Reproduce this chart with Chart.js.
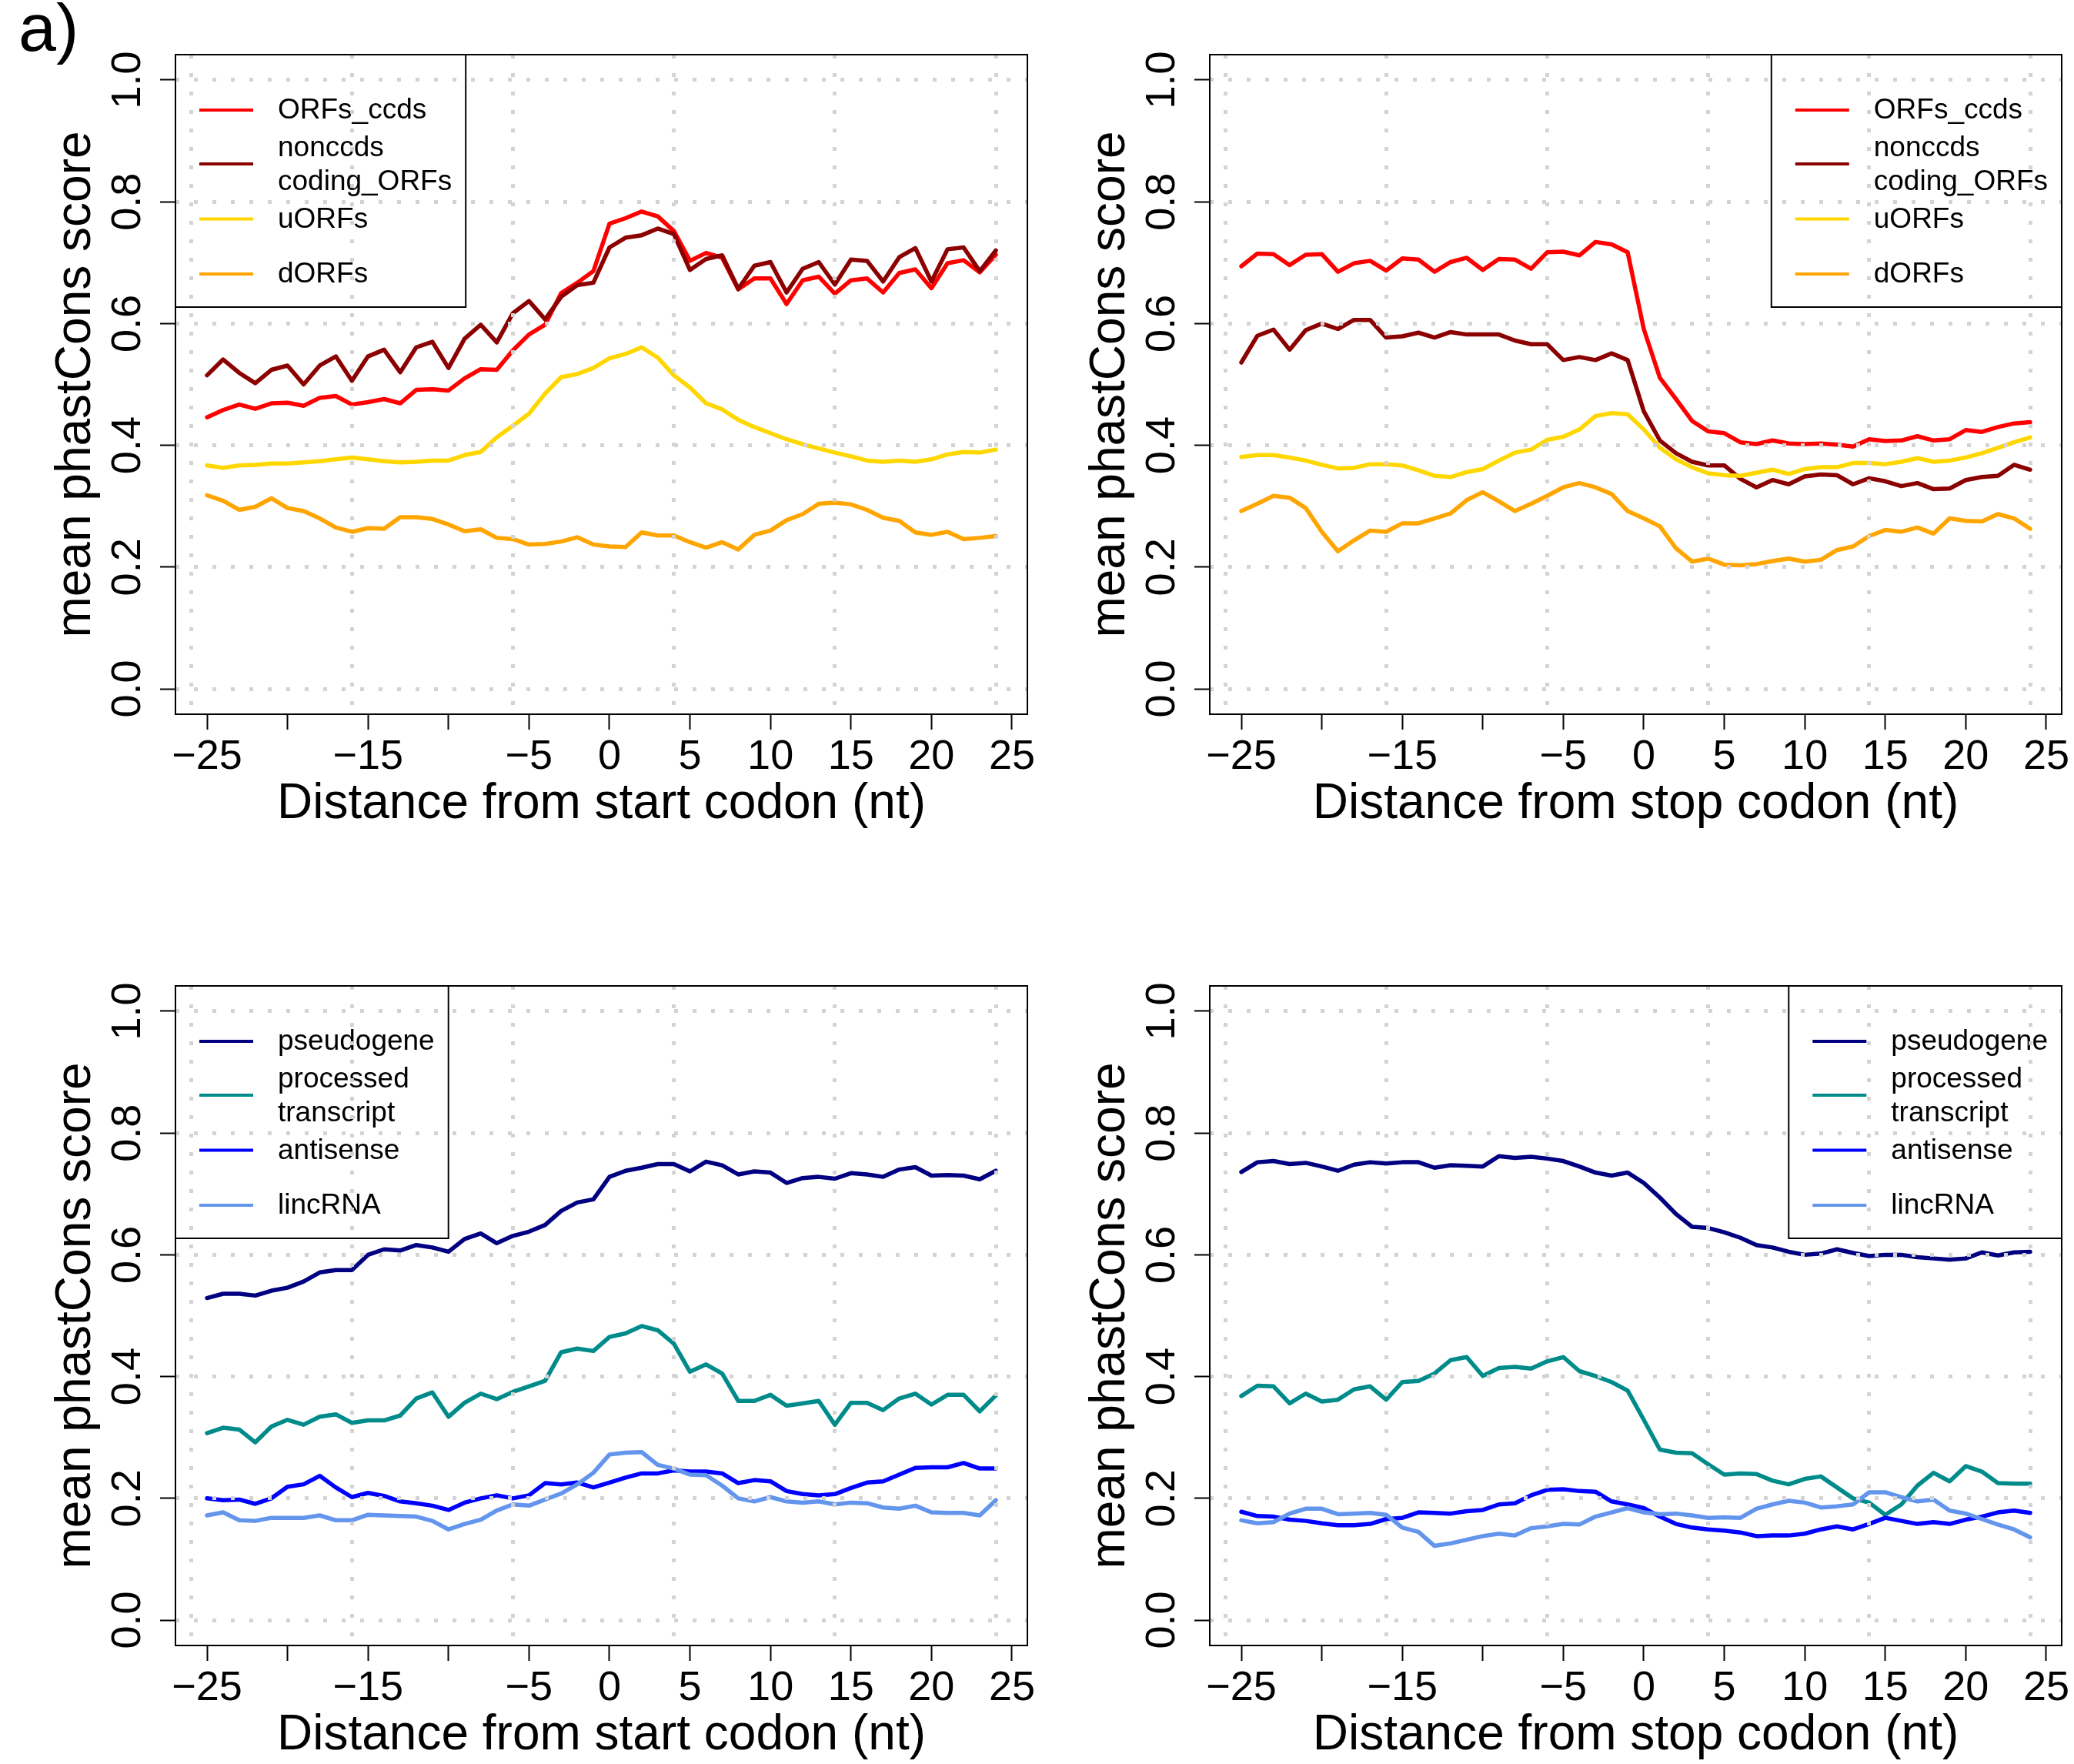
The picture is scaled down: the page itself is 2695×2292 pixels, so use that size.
<!DOCTYPE html>
<html><head><meta charset="utf-8">
<script src="https://cdn.jsdelivr.net/npm/chart.js@4.4.1/dist/chart.umd.min.js"></script>
<style>
html,body{margin:0;padding:0;background:#fff;width:2695px;height:2292px;overflow:hidden;position:relative}
canvas{position:absolute;display:block}
</style>
</head><body>
<canvas id="c1" width="1345" height="1150" style="left:0px;top:0px;width:1345px;height:1150px"></canvas>
<canvas id="c2" width="1350" height="1150" style="left:1345px;top:0px;width:1350px;height:1150px"></canvas>
<canvas id="c3" width="1345" height="1082" style="left:0px;top:1210px;width:1345px;height:1082px"></canvas>
<canvas id="c4" width="1350" height="1082" style="left:1345px;top:1210px;width:1350px;height:1082px"></canvas>
<script>
// ---------- categories / ticks ----------
const xValues = [-25,-24,-23,-22,-21,-20,-19,-18,-17,-16,-15,-14,-13,-12,-11,-10,-9,-8,-7,-6,-5,-4,-3,-2,-1,
                 0,1,2,3,4,5,6,7,8,9,10,11,12,13,14,15,16,17,18,19,20,21,22,23,24];
const xTickValues = [-25,-20,-15,-10,-5,0,5,10,15,20,25];
const xTickLabels = ['\u221225','','\u221215','','\u22125','0','5','10','15','20','25'];
const xGridValues = [-26,-16,-6,4,14,24];
const yTickValues = [0,0.2,0.4,0.6,0.8,1.0];
const yTickLabels = ['0.0','0.2','0.4','0.6','0.8','1.0'];

// ---------- series: start codon, ORF classes ----------
const startCcds = [0.446,0.458,0.467,0.460,0.469,0.470,0.465,0.478,0.481,0.467,0.471,0.476,0.469,0.491,0.492,0.490,0.510,0.525,0.524,0.556,0.582,0.598,0.650,0.667,0.686,
  0.764,0.773,0.784,0.776,0.752,0.703,0.716,0.708,0.656,0.674,0.674,0.632,0.671,0.677,0.649,0.671,0.674,0.651,0.683,0.689,0.658,0.699,0.704,0.684,0.713];
const startNonccds = [0.515,0.541,0.519,0.502,0.524,0.531,0.500,0.531,0.546,0.506,0.546,0.557,0.520,0.561,0.570,0.527,0.575,0.598,0.569,0.617,0.637,0.607,0.644,0.663,0.667,
  0.725,0.741,0.745,0.756,0.747,0.688,0.706,0.712,0.657,0.695,0.701,0.651,0.690,0.701,0.664,0.705,0.703,0.669,0.709,0.724,0.669,0.722,0.725,0.686,0.720];
const startUorf = [0.367,0.363,0.367,0.368,0.370,0.370,0.372,0.374,0.377,0.380,0.377,0.374,0.372,0.373,0.375,0.375,0.384,0.389,0.413,0.432,0.452,0.485,0.512,0.517,0.527,
  0.543,0.550,0.561,0.544,0.515,0.495,0.469,0.459,0.442,0.430,0.420,0.410,0.402,0.395,0.388,0.382,0.375,0.373,0.375,0.373,0.377,0.385,0.389,0.388,0.393];
const startDorf = [0.318,0.309,0.294,0.299,0.313,0.297,0.292,0.280,0.265,0.258,0.264,0.263,0.282,0.282,0.279,0.270,0.259,0.262,0.248,0.246,0.237,0.238,0.242,0.249,0.237,
  0.234,0.233,0.257,0.252,0.252,0.241,0.232,0.241,0.229,0.253,0.260,0.277,0.287,0.304,0.306,0.303,0.294,0.281,0.276,0.257,0.253,0.258,0.246,0.248,0.251];

// ---------- series: stop codon, ORF classes ----------
const stopCcds = [0.694,0.715,0.714,0.696,0.713,0.714,0.685,0.699,0.703,0.687,0.707,0.705,0.685,0.701,0.708,0.688,0.706,0.705,0.690,0.717,0.718,0.712,0.734,0.730,0.717,
  0.591,0.511,0.476,0.440,0.423,0.420,0.405,0.402,0.408,0.403,0.402,0.403,0.401,0.398,0.410,0.407,0.408,0.415,0.408,0.410,0.425,0.422,0.430,0.436,0.438];
const stopNonccds = [0.536,0.580,0.590,0.557,0.589,0.600,0.591,0.606,0.606,0.577,0.579,0.585,0.577,0.586,0.582,0.582,0.582,0.572,0.566,0.566,0.540,0.545,0.540,0.551,0.540,
  0.456,0.408,0.387,0.373,0.367,0.367,0.345,0.331,0.343,0.336,0.349,0.352,0.351,0.336,0.346,0.341,0.333,0.338,0.328,0.329,0.343,0.348,0.350,0.368,0.360];
const stopUorf = [0.381,0.384,0.384,0.380,0.375,0.368,0.362,0.363,0.369,0.369,0.367,0.359,0.350,0.348,0.356,0.361,0.375,0.388,0.393,0.409,0.414,0.426,0.448,0.453,0.451,
  0.426,0.396,0.377,0.364,0.354,0.351,0.350,0.355,0.360,0.353,0.361,0.364,0.364,0.371,0.371,0.369,0.373,0.379,0.373,0.375,0.380,0.387,0.396,0.405,0.413];
const stopDorf = [0.292,0.304,0.317,0.314,0.297,0.258,0.226,0.244,0.260,0.258,0.272,0.272,0.280,0.288,0.310,0.323,0.308,0.292,0.304,0.317,0.331,0.338,0.331,0.320,0.292,
  0.280,0.267,0.231,0.209,0.214,0.204,0.203,0.205,0.210,0.214,0.209,0.212,0.228,0.234,0.251,0.261,0.258,0.265,0.255,0.280,0.276,0.275,0.287,0.280,0.263];

// ---------- series: start codon, transcript types ----------
const startPseudo = [0.529,0.536,0.536,0.533,0.541,0.546,0.556,0.571,0.575,0.575,0.600,0.609,0.607,0.616,0.612,0.605,0.626,0.635,0.619,0.631,0.638,0.649,0.672,0.686,0.691,
  0.728,0.738,0.743,0.749,0.749,0.737,0.753,0.747,0.732,0.737,0.735,0.718,0.726,0.728,0.725,0.734,0.732,0.728,0.740,0.744,0.730,0.731,0.730,0.724,0.738];
const startProc = [0.307,0.316,0.313,0.292,0.318,0.329,0.321,0.334,0.338,0.324,0.328,0.328,0.336,0.364,0.374,0.334,0.357,0.372,0.363,0.375,0.384,0.393,0.440,0.446,0.442,
  0.465,0.471,0.483,0.476,0.454,0.408,0.420,0.405,0.360,0.360,0.370,0.352,0.356,0.360,0.321,0.357,0.357,0.345,0.364,0.372,0.354,0.370,0.370,0.343,0.369];
const startAnti = [0.200,0.197,0.198,0.191,0.200,0.219,0.223,0.237,0.218,0.202,0.209,0.204,0.195,0.192,0.188,0.181,0.193,0.200,0.205,0.200,0.205,0.225,0.223,0.226,0.218,
  0.226,0.234,0.241,0.241,0.246,0.244,0.244,0.241,0.225,0.230,0.228,0.212,0.207,0.205,0.207,0.217,0.226,0.228,0.239,0.250,0.251,0.251,0.258,0.249,0.249];
const startLinc = [0.172,0.177,0.164,0.163,0.168,0.168,0.168,0.172,0.164,0.164,0.173,0.172,0.171,0.170,0.163,0.149,0.158,0.165,0.180,0.190,0.188,0.198,0.208,0.223,0.242,
  0.272,0.275,0.276,0.255,0.249,0.239,0.238,0.221,0.200,0.195,0.202,0.195,0.193,0.195,0.190,0.193,0.192,0.185,0.183,0.188,0.177,0.176,0.176,0.172,0.197];

// ---------- series: stop codon, transcript types ----------
const stopPseudo = [0.736,0.752,0.754,0.749,0.751,0.745,0.738,0.748,0.752,0.750,0.752,0.752,0.743,0.747,0.746,0.745,0.762,0.759,0.761,0.758,0.754,0.745,0.735,0.730,0.735,
  0.718,0.694,0.667,0.646,0.644,0.637,0.628,0.616,0.612,0.605,0.600,0.602,0.609,0.603,0.598,0.600,0.600,0.596,0.594,0.592,0.594,0.604,0.599,0.604,0.605];
const stopProc = [0.368,0.385,0.384,0.356,0.372,0.359,0.362,0.379,0.384,0.362,0.391,0.393,0.405,0.427,0.432,0.401,0.414,0.416,0.413,0.425,0.432,0.409,0.401,0.391,0.377,
  0.329,0.280,0.275,0.274,0.256,0.239,0.241,0.240,0.229,0.223,0.232,0.236,0.218,0.200,0.193,0.173,0.190,0.221,0.242,0.228,0.253,0.244,0.225,0.224,0.224];
const stopAnti = [0.178,0.171,0.170,0.165,0.163,0.159,0.156,0.156,0.158,0.166,0.168,0.177,0.176,0.175,0.179,0.181,0.190,0.192,0.205,0.214,0.215,0.212,0.211,0.195,0.190,
  0.184,0.170,0.158,0.152,0.149,0.147,0.144,0.138,0.139,0.139,0.142,0.149,0.154,0.149,0.158,0.168,0.163,0.158,0.161,0.158,0.165,0.170,0.177,0.180,0.176];
const stopLinc = [0.164,0.159,0.161,0.175,0.183,0.183,0.174,0.175,0.176,0.173,0.152,0.145,0.122,0.126,0.132,0.138,0.142,0.139,0.151,0.154,0.158,0.157,0.170,0.177,0.184,
  0.177,0.174,0.175,0.172,0.168,0.169,0.168,0.183,0.190,0.196,0.193,0.185,0.187,0.190,0.210,0.210,0.202,0.195,0.198,0.180,0.175,0.166,0.157,0.149,0.136];

// ---------- names / colours ----------
const orfNames = ['ORFs_ccds','nonccds\ncoding_ORFs','uORFs','dORFs'];
const orfColors = ['#FF0000','#8B0000','#FFD700','#FFA500'];
const txNames = ['pseudogene','processed\ntranscript','antisense','lincRNA'];
const txColors = ['#000080','#008B8B','#0000FF','#6495ED'];
const yTitle = 'mean phastCons score';
const xTitleStart = 'Distance from start codon (nt)';
const xTitleStop = 'Distance from stop codon (nt)';

const AXFONT = '"Liberation Sans", Arial, sans-serif';

const rPlot = {
  id: 'rPlot',
  afterDatasetsDraw(chart) {
    const o = chart.options.plugins.rPlot;
    const {ctx, chartArea: ca} = chart;
    ctx.save();
    ctx.font = '37px ' + AXFONT;
    const lines = chart.data.datasets.map(d => d.label.split('\n'));
    let maxW = 0;
    lines.flat().forEach(t => { maxW = Math.max(maxW, ctx.measureText(t).width); });
    const bw = 133 + maxW + 18, bh = 328;
    const bx = o.legendCorner === 'left' ? ca.left : ca.right - bw;
    const by = ca.top;
    ctx.fillStyle = '#fff'; ctx.fillRect(bx, by, bw, bh);
    ctx.lineWidth = 2; ctx.strokeStyle = '#000'; ctx.strokeRect(bx, by, bw, bh);
    const offs = [72, 142, 213.5, 285];
    chart.data.datasets.forEach((ds, i) => {
      const y = by + offs[i];
      ctx.strokeStyle = ds.borderColor; ctx.lineWidth = 4; ctx.lineCap = 'butt';
      ctx.beginPath(); ctx.moveTo(bx + 31, y); ctx.lineTo(bx + 101, y); ctx.stroke();
      ctx.fillStyle = '#000'; ctx.textAlign = 'left'; ctx.textBaseline = 'middle';
      const ls = lines[i];
      if (ls.length === 1) ctx.fillText(ls[0], bx + 133, y + 1);
      else { ctx.fillText(ls[0], bx + 133, y - 20); ctx.fillText(ls[1], bx + 133, y + 24); }
    });
    ctx.restore();
  },
  afterDraw(chart) {
    const o = chart.options.plugins.rPlot;
    const {ctx, chartArea: ca, scales} = chart;
    const xs = scales.x, ys = scales.y;
    ctx.save();
    // plot box
    ctx.strokeStyle = '#000'; ctx.lineWidth = 2;
    ctx.strokeRect(ca.left, ca.top, ca.right - ca.left, ca.bottom - ca.top);
    ctx.fillStyle = '#000';
    // x tick labels
    ctx.font = '54px ' + AXFONT;
    ctx.textAlign = 'center'; ctx.textBaseline = 'alphabetic';
    xTickValues.forEach((v, i) => {
      if (xTickLabels[i]) ctx.fillText(xTickLabels[i], xs.getPixelForValue(v), ca.bottom + 71);
    });
    // y tick labels (rotated, R style)
    yTickValues.forEach((v, i) => {
      ctx.save();
      ctx.translate(ca.left - 46, ys.getPixelForValue(v));
      ctx.rotate(-Math.PI / 2);
      ctx.fillText(yTickLabels[i], 0, 0);
      ctx.restore();
    });
    // titles
    ctx.font = '64px ' + AXFONT;
    ctx.fillText(o.xTitle, (ca.left + ca.right) / 2, ca.bottom + 135);
    ctx.save();
    ctx.translate(ca.left - 111, (ca.top + ca.bottom) / 2);
    ctx.rotate(-Math.PI / 2);
    ctx.fillText(yTitle, 0, 0);
    ctx.restore();
    if (o.tag) {
      ctx.font = '88px ' + AXFONT;
      ctx.textAlign = 'left';
      ctx.fillText(o.tag, 24, 66);
    }
    ctx.restore();
  }
};

function makePanel(id, names, colors, series, xTitle, corner, pad, tag) {
  const datasets = series.map((arr, i) => ({
    label: names[i],
    data: xValues.map((x, j) => ({x: x, y: arr[j]})),
    borderColor: colors[i],
    backgroundColor: colors[i],
    borderWidth: 5.5,
    pointRadius: 0,
    tension: 0,
    fill: false,
    borderCapStyle: 'round',
    borderJoinStyle: 'round',
    order: series.length - i
  }));
  const gridCommon = {color: '#D3D3D3', lineWidth: 5, drawTicks: false, z: 1};
  return new Chart(document.getElementById(id), {
    type: 'line',
    data: {datasets},
    options: {
      responsive: false, maintainAspectRatio: false, animation: false, devicePixelRatio: 1,
      layout: {padding: pad},
      plugins: {legend: {display: false}, tooltip: {enabled: false},
        rPlot: {xTitle: xTitle, legendCorner: corner, tag: tag}},
      scales: {
        x: {type: 'linear', position: 'bottom', min: -26.96, max: 25.96,
          afterBuildTicks: a => { a.ticks = xTickValues.map(v => ({value: v})); },
          ticks: {display: false},
          grid: {drawOnChartArea: false, drawTicks: true, tickLength: 20, tickWidth: 2, tickColor: '#000', color: '#000'},
          border: {display: false}},
        y: {type: 'linear', position: 'left', min: -0.0416, max: 1.0416,
          afterBuildTicks: a => { a.ticks = yTickValues.map(v => ({value: v})); },
          ticks: {display: false},
          grid: {drawOnChartArea: false, drawTicks: true, tickLength: 20, tickWidth: 2, tickColor: '#000', color: '#000'},
          border: {display: false}},
        xg: {type: 'linear', position: 'bottom', min: -26.96, max: 25.96,
          afterBuildTicks: a => { a.ticks = xGridValues.map(v => ({value: v})); },
          ticks: {display: false}, grid: gridCommon,
          border: {display: false, dash: [5, 19]}},
        yg: {type: 'linear', position: 'left', min: -0.0416, max: 1.0416,
          afterBuildTicks: a => { a.ticks = yTickValues.map(v => ({value: v})); },
          ticks: {display: false}, grid: gridCommon,
          border: {display: false, dash: [5, 19]}}
      }
    },
    plugins: [rPlot]
  });
}

makePanel('c1', orfNames, orfColors, [startCcds, startNonccds, startUorf, startDorf], xTitleStart, 'left',
  {left: 208, top: 71, right: 10, bottom: 202}, 'a)');
makePanel('c2', orfNames, orfColors, [stopCcds, stopNonccds, stopUorf, stopDorf], xTitleStop, 'right',
  {left: 207, top: 71, right: 16, bottom: 202}, null);
makePanel('c3', txNames, txColors, [startPseudo, startProc, startAnti, startLinc], xTitleStart, 'left',
  {left: 208, top: 71, right: 10, bottom: 134}, null);
makePanel('c4', txNames, txColors, [stopPseudo, stopProc, stopAnti, stopLinc], xTitleStop, 'right',
  {left: 207, top: 71, right: 16, bottom: 134}, null);
</script>
</body></html>
